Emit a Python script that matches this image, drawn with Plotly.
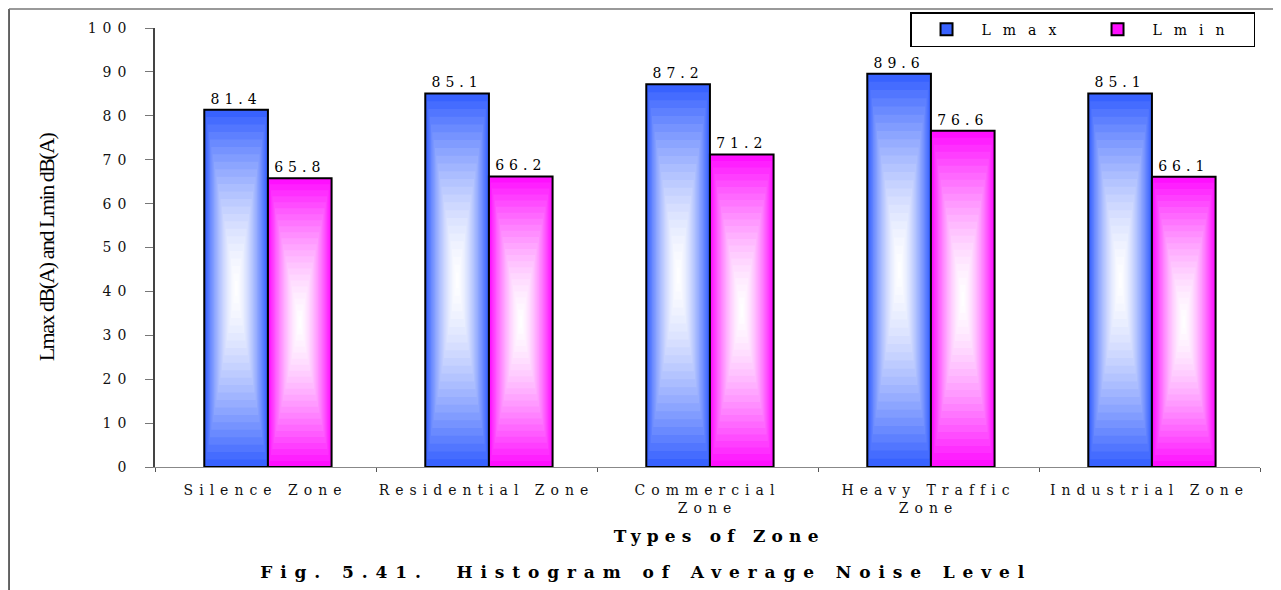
import plotly.graph_objects as go

categories = ["Silence Zone", "Residential Zone", "Commercial<br>Zone",
              "Heavy Traffic<br>Zone", "Industrial Zone"]
lmax = [81.4, 85.1, 87.2, 89.6, 85.1]
lmin = [65.8, 66.2, 71.2, 76.6, 66.1]
y_ticks = [0, 10, 20, 30, 40, 50, 60, 70, 80, 90, 100]

SERIF = "DejaVu Serif"
TIMES = "Liberation Serif"

series = [
    dict(name="Lmax", values=lmax, rgb=(56, 98, 255), offset=-0.277),
    dict(name="Lmin", values=lmin, rgb=(255, 16, 255), offset=0.011),
]
W = 0.288
N = 24

fig = go.Figure()

def mix(rgb, f):
    r, g, b = [round(255 + (c - 255) * f) for c in rgb]
    return f"rgb({r},{g},{b})"

for s in series:
    fig.add_trace(go.Bar(
        x=categories, y=s["values"], name=s["name"],
        marker=dict(color=mix(s["rgb"], 1.0), line=dict(color="black", width=2)),
        width=W, offset=s["offset"],
        text=[f"{v:.1f}" for v in s["values"]], textposition="outside",
        textfont=dict(family=SERIF, size=14, color="#000"),
        cliponaxis=False,
    ))

# centre-out rectangular gradient built from nested bars
for s in series:
    centre = s["offset"] + W / 2
    for k in range(1, N):
        t = 1 - k / N
        f = t ** 1.6
        fig.add_trace(go.Bar(
            x=categories,
            y=[v * t for v in s["values"]],
            base=[v * (1 - t) / 2 for v in s["values"]],
            width=W * t * 0.985, offset=centre - W * t * 0.985 / 2,
            marker=dict(color=mix(s["rgb"], f), line=dict(width=0)),
            showlegend=False, hoverinfo="skip",
        ))

fig.update_layout(
    width=1281, height=590,
    barmode="overlay",
    paper_bgcolor="white", plot_bgcolor="white",
    margin=dict(l=147, r=29, t=20, b=131, autoexpand=False),
    showlegend=True,
    legend=dict(
        orientation="h", x=0.9955, xanchor="right", y=1.036, yanchor="top",
        bordercolor="black", borderwidth=1.5, bgcolor="white",
        font=dict(family=SERIF, size=14, color="#000"),
        entrywidth=96, itemwidth=60,
    ),
    font=dict(family=SERIF, color="#000"),
)

fig.update_yaxes(
    range=[0, 100], tickvals=y_ticks, showgrid=False, zeroline=False,
    showline=True, linecolor="#444", linewidth=1.5,
    ticks="outside", ticklen=8, tickcolor="#777",
    ticklabelstandoff=10,
    tickfont=dict(family=SERIF, size=14, color="#111"),
    title=dict(text="Lmax dB(A) and Lmin dB(A)", standoff=45,
               font=dict(family=TIMES, size=22, color="black")),
)
fig.update_xaxes(
    showgrid=False, showline=True, linecolor="#888", linewidth=1,
    ticks="outside", ticklen=4, tickson="boundaries", tickcolor="#555",
    ticklabelstandoff=10,
    tickfont=dict(family=SERIF, size=14, color="#111"),
    tickangle=0,
)

fig.add_annotation(text="<b>Types of Zone</b>", xref="paper", yref="paper",
                   x=0.511, y=-0.158, xanchor="center", yanchor="middle",
                   showarrow=False, font=dict(family=SERIF, size=17, color="#000"))
fig.add_annotation(text="<b>Fig. 5.41.  Histogram of Average Noise Level</b>",
                   xref="paper", yref="paper", x=0.445, y=-0.239,
                   xanchor="center", yanchor="middle", showarrow=False,
                   font=dict(family=SERIF, size=17, color="#000"))

# outer frame (left and top edges)
fig.add_shape(type="line", xref="paper", yref="paper", x0=-0.1321, x1=-0.1321,
              y0=1.043, y1=-0.30, line=dict(color="#333", width=1.5))
fig.add_shape(type="line", xref="paper", yref="paper", x0=-0.1321, x1=1.03,
              y0=1.043, y1=1.043, line=dict(color="#777", width=1.5))

# the reference lettering is horizontally stretched: widen text with letter spacing
post = """
var gd = document.getElementById('{plot_id}');
function applySpacing(){
  var rules = [['.xtick text','6px'],['.ytick text','6px'],['.bartext','5px'],
               ['.legendtext','12px'],['.ytitle','-1.5px']];
  rules.forEach(function(r){
    gd.querySelectorAll(r[0]).forEach(function(el){ el.style.letterSpacing = r[1]; });
  });
  var ann = gd.querySelectorAll('.annotation-text');
  if (ann.length > 0) ann[0].style.letterSpacing = '6.2px';
  if (ann.length > 1) ann[1].style.letterSpacing = '7.9px';
}
applySpacing();
gd.on('plotly_afterplot', applySpacing);
"""

fig.write_html("out.html", post_script=post)
